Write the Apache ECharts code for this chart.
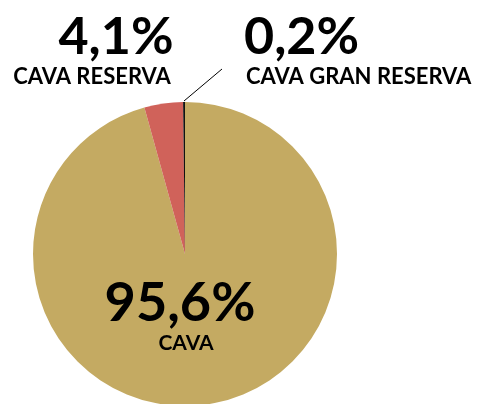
<!DOCTYPE html>
<html>
<head>
<meta charset="utf-8">
<script src="https://cdn.jsdelivr.net/npm/echarts@6/dist/echarts.min.js"></script>
<style>
  html, body { margin: 0; padding: 0; background: #fff; }
  #chart { width: 478px; height: 404px; }
</style>
</head>
<body>
<div id="chart"></div>
<script>
// datos del gráfico
var categories = ['CAVA', 'CAVA RESERVA', 'CAVA GRAN RESERVA'];
var values = [95.6, 4.1, 0.2];
var pctLabels = ['95,6%', '4,1%', '0,2%'];
var colors = ['#c4aa62', '#d0625a', '#111111'];

var seriesData = [];
for (var i = 0; i < categories.length; i++) {
    seriesData.push({ name: categories[i], value: values[i], itemStyle: { color: colors[i] } });
}

var bigFont = 'Lato, "Open Sans", sans-serif';

var option = {
    animation: false,
    backgroundColor: '#fff',
    series: [{
        type: 'pie',
        center: [185, 254],
        radius: 152,
        startAngle: 90,
        clockwise: true,
        silent: true,
        label: { show: false },
        labelLine: { show: false },
        itemStyle: { borderWidth: 0 },
        data: seriesData
    }],
    graphic: {
        elements: [
            // 4,1% cava reserva
            { type: 'text', z: 100, x: 116, y: 37, style: { text: pctLabels[1], font: 'bold 52px ' + bigFont, fill: '#000', align: 'center', verticalAlign: 'middle' } },
            { type: 'text', z: 100, x: 92, y: 77, style: { text: categories[1], font: 'bold 22px ' + bigFont, fill: '#000', align: 'center', verticalAlign: 'middle' } },
            // 0,2% cava gran reserva
            { type: 'text', z: 100, x: 244, y: 37, style: { text: pctLabels[2], font: 'bold 52px ' + bigFont, fill: '#000', align: 'left', verticalAlign: 'middle' } },
            { type: 'text', z: 100, x: 246, y: 77, style: { text: categories[2], font: 'bold 22px ' + bigFont, fill: '#000', align: 'left', verticalAlign: 'middle' } },
            // 95,6% cava
            { type: 'text', z: 100, x: 180, y: 304, style: { text: pctLabels[0], font: 'bold 54px ' + bigFont, fill: '#000', align: 'center', verticalAlign: 'middle' } },
            { type: 'text', z: 100, x: 186, y: 343, style: { text: categories[0], font: 'bold 21px ' + bigFont, fill: '#000', align: 'center', verticalAlign: 'middle' } },
            // línea guía
            { type: 'line', z: 100, shape: { x1: 184, y1: 101, x2: 222, y2: 69 }, style: { stroke: '#000', lineWidth: 1 } }
        ]
    }
};

var myChart = echarts.init(document.getElementById('chart'), null, { renderer: 'canvas' });
myChart.setOption(option);
</script>
</body>
</html>
